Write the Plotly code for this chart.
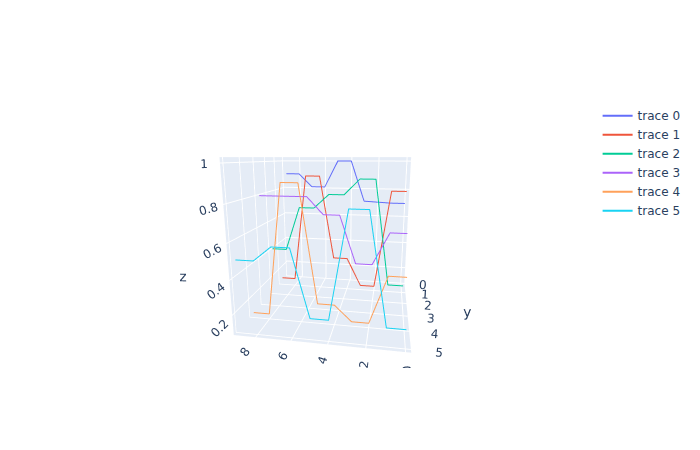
import plotly.graph_objects as go

x_values = [0, 1, 2, 3, 4, 5, 6, 7, 8, 9]
y_levels = [0, 1, 2, 3, 4, 5]

z0 = [0.70, 0.70, 0.705, 0.71, 1.0, 1.0, 0.81, 0.81, 0.905, 0.905]
z1 = [0.805, 0.805, 0.115, 0.115, 0.315, 0.315, 0.90, 0.90, 0.135, 0.135]
z2 = [0.205, 0.205, 0.895, 0.895, 0.795, 0.795, 0.705, 0.705, 0.415, 0.415]
z3 = [0.60, 0.60, 0.40, 0.40, 0.695, 0.695, 0.80, 0.80, 0.80, 0.80]
z4 = [0.40, 0.40, 0.11, 0.11, 0.205, 0.205, 0.895, 0.895, 0.115, 0.115]
z5 = [0.19, 0.19, 0.79, 0.79, 0.205, 0.205, 0.585, 0.585, 0.505, 0.505]
z_series = [z0, z1, z2, z3, z4, z5]

fig = go.Figure()
for y_level, z_values in zip(y_levels, z_series):
    fig.add_trace(go.Scatter3d(x=x_values, y=[y_level] * len(x_values), z=z_values, mode="lines"))

fig.update_layout(
    font=dict(family="DejaVu Sans"),
    margin=dict(t=93, b=74, r=112),
    legend=dict(xref="container", yref="container", xanchor="left", yanchor="top", x=0.862, y=0.785),
    scene=dict(
        camera=dict(eye=dict(x=-0.36, y=2.05, z=0.5)),
        zaxis=dict(dtick=0.2),
    ),
)
fig.write_html("out.html")
